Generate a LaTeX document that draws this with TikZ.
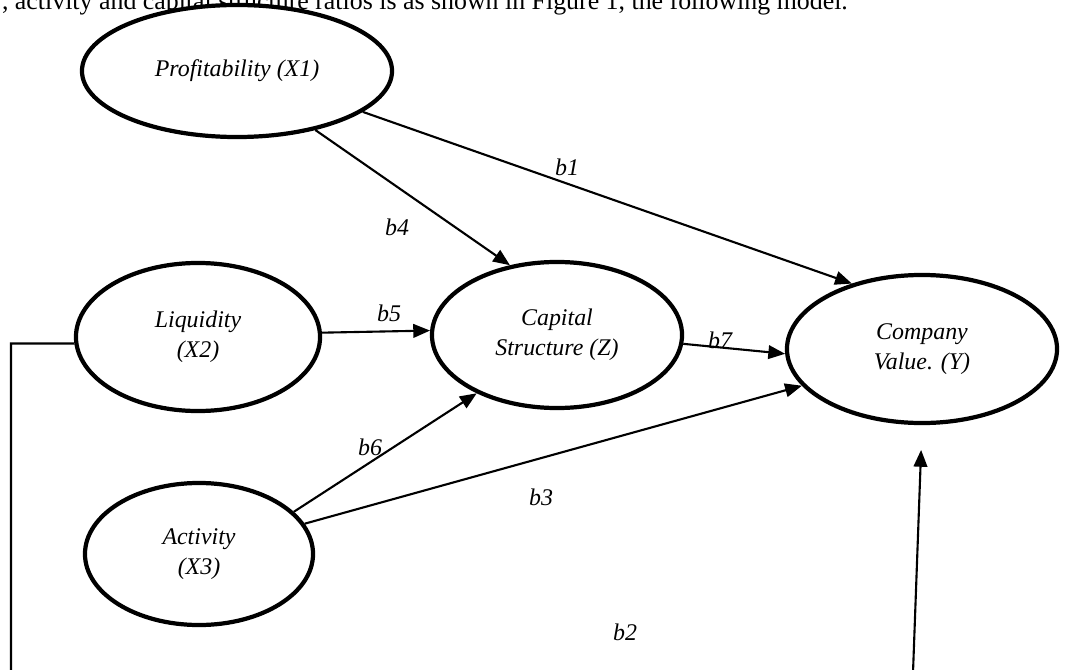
\documentclass[tikz,border=0pt]{standalone}
\usepackage{fontspec}
\setmainfont{Liberation Serif}
\usepackage{tikz}
\usetikzlibrary{arrows.meta,shapes.geometric}
\tikzset{
  every picture/.style={font=\fontsize{17}{21}\selectfont, line width=1.5pt},
  latent/.style={ellipse, draw=black, line width=3pt, fill=white, align=center,
    inner sep=0pt, font=\fontsize{17}{21}\selectfont\itshape,
    minimum width=#1},
  path/.style={-{Triangle[length=4.2mm,width=3.4mm]}, draw=black},
  coef/.style={font=\fontsize{17}{21}\selectfont\itshape, inner sep=1pt},
}

\begin{document}
\begin{tikzpicture}[x=0.025cm, y=-0.025cm]
  \useasboundingbox (0,0) rectangle (1072,670);
  \clip (0,0) rectangle (1072,670);
  % sentence above the figure
  \node[anchor=base west, inner sep=0pt, font=\fontsize{18.4}{22}\selectfont] (txt) at (1,10)
    {, activity and capital structure ratios is as shown in Figure 1, the following model.};
  % constructs
  \node[latent=7.75cm, minimum height=3.3cm] (prof) at (237,71) {Profitability (X1)};
  \node[latent=6.1cm, minimum height=3.7cm] (liq) at (198,337) {Liquidity\\(X2)};
  \node[latent=6.25cm, minimum height=3.65cm] (cap) at (557,335) {Capital\\Structure (Z)};
  \node[latent=6.75cm, minimum height=3.7cm] (comp) at (922,349) {Company\\Value. (Y)};
  \node[latent=5.7cm, minimum height=3.55cm] (act) at (199,554) {Activity\\(X3)};
  \coordinate (loopL) at (11,700);
  \coordinate (loopR) at (912,700);
  % paths
  \draw[path] (prof.-18) -- (comp.137);
  \draw[path] (prof.-37) -- (cap.124);
  \draw[path] (liq.2) -- (cap.178);
  \draw[path] (cap.-4) -- (comp.-178);
  \draw[path] (act.24) -- (cap.-144);
  \draw[path] (act.16) -- (comp.-163);
  \draw[path, shorten >=0.62cm] (liq.183) -| (loopL) -- (loopR) -- (comp.south);
  % coefficients
  \node[coef] (lb1) at (567,167) {b1};
  \node[coef] (lb4) at (397,227) {b4};
  \node[coef] (lb5) at (389,313) {b5};
  \node[coef] (lb7) at (720,340) {b7};
  \node[coef] (lb6) at (370,447) {b6};
  \node[coef] (lb3) at (541,497) {b3};
  \node[coef] (lb2) at (625,632) {b2};
\end{tikzpicture}
\end{document}
